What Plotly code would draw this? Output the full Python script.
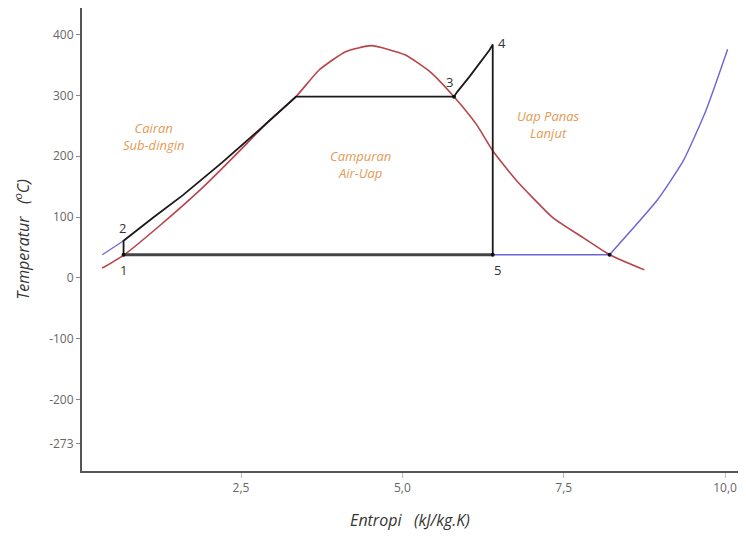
import plotly.graph_objects as go

# Saturation dome (red)
sat_s = [0.35, 0.68, 1.22, 1.9, 2.6, 2.9, 3.35, 3.71, 4.12, 4.52, 5.04, 5.43, 5.8, 6.15, 6.4, 6.76, 7.33, 7.8, 8.21, 8.75]
sat_T = [16, 37, 84, 148, 222, 255, 298, 342, 372, 382, 367, 339, 298, 252, 209, 161, 99, 66, 38, 13]

# Rankine cycle (black): 1 -> 2 -> ... -> 3 -> 4 -> 5
cyc_s = [0.68, 0.68, 1.15, 1.6, 2.2, 2.79, 3.35, 5.8, 5.85, 6.04, 6.35, 6.4, 6.4]
cyc_T = [38, 61, 100, 136, 189, 244, 298, 298, 306, 331, 375, 384, 38]

# Condensation line 5 -> 1
cond_s = [6.4, 0.68]
cond_T = [38, 38]

# Isobar (blue)
iso_left_s = [0.35, 0.68]
iso_left_T = [38, 61]
iso_flat_s = [6.4, 8.21]
iso_flat_T = [38, 38]
iso_rise_s = [8.21, 8.95, 9.36, 9.71, 10.04]
iso_rise_T = [38, 128, 194, 277, 376]

# State points
pt_labels = ["1", "2", "3", "4", "5"]
pt_s = [0.68, 0.68, 5.8, 6.4, 6.4]
pt_T = [38, 61, 298, 384, 38]

# Region labels
region_text = ["Cairan<br>Sub-dingin", "Campuran<br>Air-Uap", "Uap Panas<br>Lanjut"]
region_s = [1.14, 4.35, 7.27]
region_T = [232, 186, 253]

# Axis ticks
x_ticks = [2.5, 5.0, 7.5, 10.0]
x_ticktext = ["2,5", "5,0", "7,5", "10,0"]
y_ticks = [400, 300, 200, 100, 0, -100, -200, -273]
y_ticktext = ["400", "300", "200", "100", "0", "-100", "-200", "-273"]

BLUE = "#6b63d6"
fig = go.Figure()
fig.add_trace(go.Scatter(x=sat_s, y=sat_T, mode="lines", line=dict(color="#b8444a", width=1.6, shape="spline", smoothing=0.5), hoverinfo="skip"))
fig.add_trace(go.Scatter(x=iso_left_s, y=iso_left_T, mode="lines", line=dict(color=BLUE, width=1.2), hoverinfo="skip"))
fig.add_trace(go.Scatter(x=iso_flat_s, y=iso_flat_T, mode="lines", line=dict(color=BLUE, width=1.6), hoverinfo="skip"))
fig.add_trace(go.Scatter(x=iso_rise_s, y=iso_rise_T, mode="lines", line=dict(color=BLUE, width=1.4, shape="spline", smoothing=0.5), hoverinfo="skip"))
fig.add_trace(go.Scatter(x=cond_s, y=cond_T, mode="lines", line=dict(color="#444444", width=3), hoverinfo="skip"))
fig.add_trace(go.Scatter(x=cyc_s, y=cyc_T, mode="lines", line=dict(color="#1a1a1a", width=1.8), hoverinfo="skip"))
fig.add_trace(go.Scatter(x=[pt_s[0], pt_s[2], pt_s[4], iso_flat_s[1]], y=[pt_T[0], pt_T[2], pt_T[4], iso_flat_T[1]],
                         mode="markers", marker=dict(color="#111111", size=4), hoverinfo="skip"))

shifts = [(0, -15), (-1, 13), (-5, 15), (9, 1), (5, -15)]
for lab, sx, ty, (dx, dy) in zip(pt_labels, pt_s, pt_T, shifts):
    fig.add_annotation(x=sx, y=ty, text=lab, showarrow=False, xshift=dx, yshift=dy,
                       font=dict(family="Open Sans", size=13, color="#333333"))

for t, sx, ty in zip(region_text, region_s, region_T):
    fig.add_annotation(x=sx, y=ty, text="<i>" + t + "</i>", showarrow=False,
                       font=dict(family="Open Sans", size=13, color="#e39a55"))

fig.update_layout(
    width=730, height=526,
    margin=dict(l=74, r=0, t=0, b=63, autoexpand=False),
    plot_bgcolor="white", paper_bgcolor="white",
    showlegend=False,
    xaxis=dict(range=[0.036, 10.2], tickvals=x_ticks, ticktext=x_ticktext, automargin=False,
               showgrid=False, zeroline=False, showline=True, linecolor="#555555", linewidth=2,
               ticks="outside", ticklen=5, tickcolor="#bbbbbb",
               tickfont=dict(family="Open Sans", size=12, color="#666666"),
               title=dict(text="<i>Entropi&nbsp;&nbsp;&nbsp;(kJ/kg.K)</i>", font=dict(family="Open Sans", size=16, color="#333333"), standoff=19)),
    yaxis=dict(range=[-318, 444], tickvals=y_ticks, ticktext=y_ticktext, automargin=False,
               showgrid=False, zeroline=False, showline=True, linecolor="#555555", linewidth=2,
               ticks="outside", ticklen=4, tickcolor="#888888",
               tickfont=dict(family="Open Sans", size=12, color="#666666"),
               title=dict(text="<i>Temperatur&nbsp;&nbsp;&nbsp;(<sup>o</sup>C)</i>", font=dict(family="Open Sans", size=16, color="#333333"), standoff=16)),
)

fig.write_html("out.html")
